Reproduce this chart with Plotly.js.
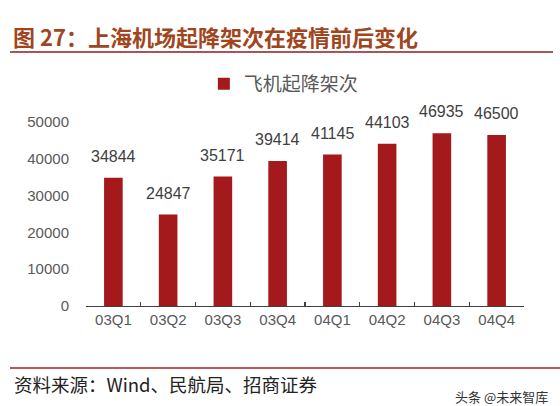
<!DOCTYPE html>
<html>
<head>
<meta charset="utf-8">
<script src="https://cdn.plot.ly/plotly-3.0.1.min.js"></script>
<style>
html,body{margin:0;padding:0;background:#fff;}
#chart{width:560px;height:406px;}
</style>
</head>
<body>
<div id="chart"></div>
<script>
const categories = ["03Q1","03Q2","03Q3","03Q4","04Q1","04Q2","04Q3","04Q4"];
const flights = [34844, 24847, 35171, 39414, 41145, 44103, 46935, 46500];
const seriesName = "飞机起降架次";
const yTicks = [0, 10000, 20000, 30000, 40000, 50000];
const titleText = "图 27：上海机场起降架次在疫情前后变化";
const sourceText = "资料来源：Wind、民航局、招商证券";
const watermark = "头条 @未来智库";

const barColor = "#A3191C";
const cjk = "'Noto Sans CJK SC', 'Liberation Sans', Arial, sans-serif";
const num = "'Liberation Sans', Arial, sans-serif";

const trace = {
  type: "bar",
  x: categories,
  y: flights,
  name: seriesName,
  marker: {color: barColor},
  width: 0.34,
  hoverinfo: "x+y"
};

const labelAnnots = categories.map((c, i) => ({
  x: c, y: flights[i], xref: "x", yref: "y",
  text: String(flights[i]), showarrow: false,
  yanchor: "bottom", yshift: 11,
  font: {family: num, size: 16, color: "#404040"}
}));

const layout = {
  width: 560, height: 406,
  margin: {l: 86, r: 36, t: 122, b: 100},
  paper_bgcolor: "#fff", plot_bgcolor: "#fff",
  showlegend: true,
  legend: {
    orientation: "h", xref: "container", yref: "container",
    x: 0.364, y: 1 - 65/406, xanchor: "left", yanchor: "top",
    font: {family: cjk, size: 19, color: "#595959"},
    bgcolor: "rgba(0,0,0,0)"
  },
  xaxis: {
    type: "category",
    showline: true, linecolor: "#404040", linewidth: 1.3,
    ticks: "inside", ticklen: 4, tickcolor: "#404040", tickwidth: 1.3,
    tickson: "boundaries",
    showgrid: false, zeroline: false,
    tickfont: {family: num, size: 15, color: "#595959"}
  },
  yaxis: {
    range: [0, 50000], tickvals: yTicks, ticktext: yTicks.map(String),
    showgrid: false, zeroline: false, showline: false,
    ticks: "", ticklabelstandoff: 16,
    tickfont: {family: num, size: 15, color: "#595959"}
  },
  annotations: labelAnnots.concat([
    {xref: "paper", yref: "paper", x: (11-86)/438, y: 1 + (122-36)/184, xanchor: "left", yanchor: "middle",
     text: "<b>" + titleText + "</b>", showarrow: false,
     font: {family: cjk, size: 22, color: "#A0461E"}},
    {xref: "paper", yref: "paper", x: (12-86)/438, y: -(384-306)/184, xanchor: "left", yanchor: "middle",
     text: sourceText, showarrow: false,
     font: {family: cjk, size: 18.5, color: "#222"}},
    {xref: "paper", yref: "paper", x: (550-86)/438, y: -(396-306)/184, xanchor: "right", yanchor: "middle",
     text: watermark, showarrow: false,
     font: {family: cjk, size: 13, color: "#333"}}
  ]),
  shapes: [
    {type: "line", xref: "paper", yref: "paper",
     x0: (10-86)/438, x1: (553-86)/438, y0: 1 + (122-52)/184, y1: 1 + (122-52)/184,
     line: {color: "#8E1B1B", width: 1.5}},
    {type: "line", xref: "paper", yref: "paper",
     x0: (10-86)/438, x1: (560-86)/438, y0: -(368-306)/184, y1: -(368-306)/184,
     line: {color: "#A02020", width: 1.5}}
  ]
};

Plotly.newPlot("chart", [trace], layout, {displayModeBar: false, staticPlot: true});
</script>
</body>
</html>
